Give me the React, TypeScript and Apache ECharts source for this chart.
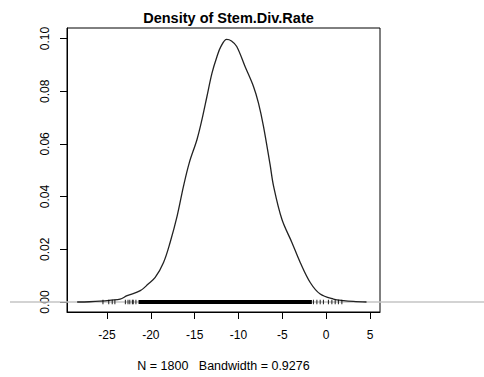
import React, { useEffect, useRef } from "react";
import * as echarts from "echarts";

const titleText = "Density of Stem.Div.Rate";
const subText = "N = 1800   Bandwidth = 0.9276";

const xTicks = [-25, -20, -15, -10, -5, 0, 5];
const yTicks = [0, 0.02, 0.04, 0.06, 0.08, 0.1];

// density curve
const densX = [-28.4, -27.0, -25.8, -24.5, -23.5, -22.7, -21.2, -20.3, -19.5, -18.55, -17.8, -17.0, -16.27, -15.6, -14.74, -14.17, -13.6, -13.03, -12.46, -12.0, -11.35, -10.8, -10.2, -9.24, -8.29, -7.72, -7.15, -6.4, -6.0, -5.05, -3.91, -2.96, -1.82, -0.68, 0.83, 2.0, 3.1, 4.6];
const densY = [0.0, 0.0001, 0.0003, 0.0007, 0.0011, 0.0024, 0.0043, 0.0068, 0.0093, 0.015, 0.0226, 0.0326, 0.044, 0.053, 0.0616, 0.0692, 0.078, 0.0868, 0.0931, 0.097, 0.0997, 0.0991, 0.097, 0.0893, 0.0818, 0.0755, 0.0667, 0.0522, 0.044, 0.0314, 0.0226, 0.015, 0.0074, 0.003, 0.0011, 0.0005, 0.0002, 0.0];

// rug: isolated observations in the tails, and the dense run in between
const rugTails = [-25.46, -24.8, -24.4, -24.1, -22.9, -22.6, -22.4, -22.1, -22.0, -21.7, -1.45, -1.06, -0.68, -0.31, 0.26, 0.65, 1.03, 1.4, 1.79];
const rugDense = [-21.4, -1.63];

export default function App() {
  const ref = useRef<HTMLDivElement>(null);
  useEffect(() => {
    document.body.style.margin = "0";
    const chart = echarts.init(ref.current!, null, { renderer: "svg" });
    const font = "'Liberation Sans', Arial, sans-serif";
    chart.setOption({
      animation: false,
      backgroundColor: "#ffffff",
      textStyle: { fontFamily: font, color: "#000" },
      title: {
        text: titleText,
        left: 223.5,
        textAlign: "center",
        top: 5,
        textStyle: { fontFamily: font, fontSize: 14.5, fontWeight: "bold", color: "#000" },
      },
      grid: {
        left: 67,
        top: 28,
        width: 313,
        height: 285,
        show: true,
        borderColor: "#000",
        borderWidth: 1,
        backgroundColor: "transparent",
      },
      xAxis: {
        type: "value",
        min: -29.56,
        max: 6.14,
        name: subText,
        nameLocation: "middle",
        nameGap: 47,
        nameTextStyle: { fontFamily: font, fontSize: 12.5, color: "#000" },
        axisLine: { show: true, onZero: false, lineStyle: { color: "#000", width: 1 } },
        axisTick: { show: true, length: 7, customValues: xTicks, lineStyle: { color: "#000" } },
        axisLabel: { show: true, customValues: xTicks, margin: 17, fontSize: 12, color: "#000", fontFamily: font },
        splitLine: { show: false },
      },
      yAxis: {
        type: "value",
        min: -0.0038,
        max: 0.104,
        axisLine: { show: true, onZero: false, lineStyle: { color: "#000", width: 1 } },
        axisTick: { show: true, length: 7, customValues: yTicks, lineStyle: { color: "#000" } },
        axisLabel: {
          show: true,
          customValues: yTicks,
          rotate: 90,
          margin: 16,
          fontSize: 12,
          color: "#000",
          fontFamily: font,
          formatter: (v: number) => v.toFixed(2),
        },
        splitLine: { show: false },
      },
      series: [
        {
          type: "line",
          data: densX.map((x, i) => [x, densY[i]]),
          smooth: 0.35,
          showSymbol: false,
          lineStyle: { color: "#222", width: 1.3 },
          z: 3,
        },
        {
          type: "line",
          data: rugDense.map((x) => [x, 0]),
          showSymbol: false,
          lineStyle: { color: "#000", width: 4 },
          z: 4,
        },
        {
          type: "scatter",
          data: rugTails.map((x) => [x, 0]),
          symbol: "rect",
          symbolSize: [1.1, 4.5],
          itemStyle: { color: "#000" },
          z: 4,
        },
      ],
    });
    const y0 = chart.convertToPixel({ yAxisIndex: 0 }, 0) as number;
    chart.setOption({
      graphic: [
        {
          type: "line",
          shape: { x1: 10, y1: y0, x2: 484, y2: y0 },
          style: { stroke: "#c4c4c4", lineWidth: 1.5 },
          z: 1,
        },
      ],
    });
    return () => chart.dispose();
  }, []);
  return <div ref={ref} style={{ width: 484, height: 377 }} />;
}
